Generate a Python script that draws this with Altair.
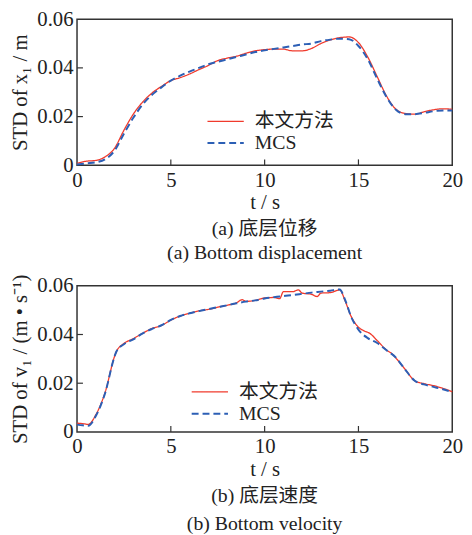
import altair as alt
import pandas as pd

FONT = "'Liberation Serif', 'Times New Roman', 'Noto Sans CJK SC', serif"
SERIES = ["本文方法", "MCS"]
COLORS = ["#f03a2c", "#2c5fb5"]

x_ticks = [0, 5, 10, 15, 20]
y_ticks = [0, 0.02, 0.04, 0.06]

# Panel (a): bottom displacement
t_a = [0, 0.5, 1, 1.5, 2, 2.5, 3, 3.5, 4, 4.5, 5, 5.5, 6, 6.5, 7, 7.5, 8, 8.5, 9, 9.5, 10,
       10.5, 11, 11.5, 12, 12.5, 13, 13.5, 14, 14.5, 15, 15.5, 16, 16.5, 17, 17.5, 18, 18.5, 19, 19.5, 20]
red_a = [0.0008, 0.0017, 0.002, 0.0035, 0.007, 0.0144, 0.021, 0.026, 0.0297, 0.0324, 0.0348, 0.036,
         0.0375, 0.0393, 0.041, 0.043, 0.044, 0.0448, 0.046, 0.047, 0.0475, 0.0477, 0.0477, 0.047,
         0.047, 0.048, 0.050, 0.0515, 0.0524, 0.0527, 0.0504, 0.0444, 0.0364, 0.0284, 0.023, 0.0213,
         0.021, 0.022, 0.0228, 0.0232, 0.023]
blue_a = [0.0003, 0.0008, 0.0012, 0.0025, 0.006, 0.013, 0.0195, 0.025, 0.029, 0.032, 0.0348, 0.0368,
          0.0385, 0.040, 0.0415, 0.0425, 0.0435, 0.0445, 0.0455, 0.0465, 0.0472, 0.0478, 0.0484, 0.049,
          0.0496, 0.050, 0.051, 0.0516, 0.052, 0.0518, 0.049, 0.0435, 0.0355, 0.028, 0.0228, 0.021,
          0.021, 0.0215, 0.0222, 0.0225, 0.0225]

# Panel (b): bottom velocity
t_b_red = [0, 0.3, 0.6, 1, 1.5, 2, 2.1, 2.5, 3, 3.5, 4, 4.5, 5, 5.5, 6, 6.5, 7, 7.5, 8, 8.5, 8.8, 9,
           9.5, 10, 10.5, 10.8, 11, 11.5, 11.8, 12, 12.5, 12.8, 13, 13.5, 14, 14.3, 14.6, 15, 15.3,
           15.6, 16, 16.5, 16.8, 17, 17.5, 18, 18.5, 19, 19.5, 20]
red_b = [0.0036, 0.0034, 0.0031, 0.007, 0.0163, 0.031, 0.033, 0.0363, 0.0383, 0.0405, 0.0425, 0.0437,
         0.0459, 0.0476, 0.0487, 0.0497, 0.0503, 0.0512, 0.052, 0.053, 0.0543, 0.0536, 0.054, 0.055,
         0.0552, 0.0547, 0.0576, 0.0576, 0.0583, 0.057, 0.0565, 0.0556, 0.057, 0.0572, 0.0583, 0.0536,
         0.0476, 0.043, 0.0415, 0.0405, 0.0375, 0.0336, 0.032, 0.0303, 0.0256, 0.021, 0.0198, 0.019,
         0.0179, 0.0165]
t_b_blue = [0, 0.3, 0.6, 1, 1.5, 2, 2.1, 2.5, 3, 3.5, 4, 4.5, 5, 5.5, 6, 6.5, 7, 7.5, 8, 8.5, 9, 9.5,
            10, 10.5, 11, 11.5, 12, 12.5, 13, 13.5, 14, 14.3, 14.6, 15, 15.5, 16, 16.5, 17, 17.5, 18,
            18.5, 19, 19.5, 20]
blue_b = [0.0030, 0.0027, 0.0025, 0.0065, 0.016, 0.031, 0.033, 0.036, 0.038, 0.0405, 0.0423, 0.0438,
          0.046, 0.0476, 0.0487, 0.0496, 0.0504, 0.0512, 0.052, 0.0528, 0.0535, 0.054, 0.0548, 0.0553,
          0.0558, 0.0562, 0.0567, 0.0572, 0.0576, 0.058, 0.0585, 0.054, 0.0475, 0.042, 0.0385, 0.0365,
          0.0335, 0.0305, 0.0255, 0.021, 0.0195, 0.0185, 0.0175, 0.0163]

W, H = 380, 148


def make_df(t_r, r, t_bl, b):
    return pd.concat([
        pd.DataFrame({"t": t_r, "v": r, "series": SERIES[0], "o": range(len(t_r))}),
        pd.DataFrame({"t": t_bl, "v": b, "series": SERIES[1], "o": range(len(t_bl))}),
    ])


def legend(lx, ly):
    return alt.Legend(title=None, orient="none", legendX=lx, legendY=ly,
                      symbolType="M-1.75,0H1.75", symbolSize=441, symbolStrokeWidth=2,
                      labelFontSize=20, labelFont=FONT, labelColor="#222",
                      labelOffset=18, rowPadding=0)


def panel(df, ytitle, title_lines, lx, ly, lh):
    x_enc = alt.X("t:Q", scale=alt.Scale(domain=[0, 20], nice=False),
                  axis=alt.Axis(values=x_ticks, title="t / s"))
    y_enc = alt.Y("v:Q", scale=alt.Scale(domain=[0, 0.06], nice=False),
                  axis=alt.Axis(values=y_ticks, title=ytitle,
                                labelExpr="datum.value == 0 ? '0' : format(datum.value, '.2f')"))
    lines = alt.Chart(df).mark_line(interpolate="monotone").encode(
        x=x_enc, y=y_enc, order="o:Q",
        color=alt.Color("series:N", scale=alt.Scale(domain=SERIES, range=COLORS), legend=legend(lx, ly)),
        strokeDash=alt.StrokeDash("series:N", scale=alt.Scale(domain=SERIES, range=[[1, 0], [7, 4]]),
                                  legend=legend(lx, ly)),
        strokeWidth=alt.StrokeWidth("series:N", scale=alt.Scale(domain=SERIES, range=[1.3, 2.0]),
                                    legend=None),
    )
    xt = alt.Chart(pd.DataFrame({"t": x_ticks[1:-1]})).mark_rule(color="#333", strokeWidth=1.2).encode(
        x=x_enc, y=alt.value(H), y2=alt.value(H - 6))
    yt = alt.Chart(pd.DataFrame({"v": y_ticks[1:-1]})).mark_rule(color="#333", strokeWidth=1.2).encode(
        y=y_enc, x=alt.value(0), x2=alt.value(6))
    return alt.layer(lines, xt, yt).properties(
        width=W, height=H,
        title=alt.TitleParams(text=title_lines, orient="bottom", anchor="middle", font=FONT,
                              fontSize=20, fontWeight="normal", color="#222", lineHeight=lh,
                              offset=7),
    )


p1 = panel(make_df(t_a, red_a, t_a, blue_a), "STD of x₁ / m",
           ["(a) 底层位移", "(a) Bottom displacement"], 139, 92, 24)
p2 = panel(make_df(t_b_red, red_b, t_b_blue, blue_b), "STD of v₁ / (m • s⁻¹)",
           ["(b) 底层速度", "(b) Bottom velocity"], 123, 96, 28)

chart = alt.vconcat(p1, p2, spacing=9).resolve_scale(
    color="independent", strokeDash="independent", strokeWidth="independent"
).resolve_legend(color="independent", strokeDash="independent").properties(
    padding={"left": 9, "top": 4, "right": 8, "bottom": 0}
).configure_view(stroke="#333", strokeWidth=1.5).configure_axis(
    domain=False, ticks=False, grid=False, labelFont=FONT, labelFontSize=21, labelColor="#222",
    labelPadding=4, titleFont=FONT, titleFontSize=21, titleFontWeight="normal", titleColor="#222",
    titlePadding=6, labelFlush=False, labelOverlap=False
).configure_axisX(titlePadding=2)

chart.save("out.html", embed_options={"renderer": "svg", "actions": False})
